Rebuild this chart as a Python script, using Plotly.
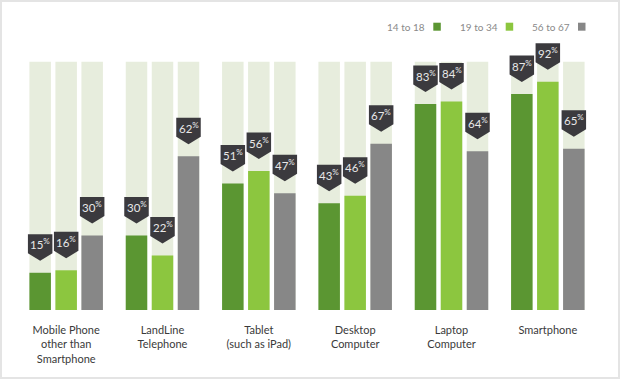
import plotly.graph_objects as go

categories = ["Mobile Phone<br>other than<br>Smartphone", "LandLine<br>Telephone",
              "Tablet<br>(such as iPad)", "Desktop<br>Computer", "Laptop<br>Computer", "Smartphone"]
series_names = ["14 to 18", "19 to 34", "56 to 67"]
v_14_18 = [15, 30, 51, 43, 83, 87]
v_19_34 = [16, 22, 56, 46, 84, 92]
v_56_67 = [30, 62, 47, 67, 64, 65]
series_values = [v_14_18, v_19_34, v_56_67]
colors = ["#5b9632", "#8cc63f", "#878787"]
bg_color = "#e7eddd"
callout_color = "#3b3a3e"

W, H = 620, 379
L, R, T, B = 18, 24, 37, 69
PW, PH = W - L - R, H - T - B
YMAX = 110 * PH / 273.0
px_per_y = PH / YMAX
px_per_x = PW / 6.0

bar_w = 21.5 / px_per_x
slot = 26 / px_per_x
offsets = [-slot, 0, slot]

x_idx = list(range(len(categories)))
fig = go.Figure()

# background bars
for k in range(3):
    fig.add_trace(go.Bar(x=[i + offsets[k] for i in x_idx], y=[100] * len(x_idx), width=bar_w,
                         marker=dict(color=bg_color, line=dict(width=0)), showlegend=False,
                         hoverinfo="skip"))
# data bars
for k in range(3):
    fig.add_trace(go.Bar(x=[i + offsets[k] for i in x_idx], y=series_values[k], width=bar_w,
                         marker=dict(color=colors[k], line=dict(width=0)), name=series_names[k],
                         showlegend=False))

shapes = []
annotations = []
cw = 24.5 / px_per_x
gap = 12 / px_per_y
tip = 7.5 / px_per_y
rect_h = 19 / px_per_y
for k in range(3):
    for i, v in enumerate(series_values[k]):
        xc = i + offsets[k]
        ytip = v + gap
        yb = ytip + tip
        yt = yb + rect_h
        x0, x1 = xc - cw / 2, xc + cw / 2
        path = f"M {x0},{yb} L {x0},{yt} L {x1},{yt} L {x1},{yb} L {xc},{ytip} Z"
        shapes.append(dict(type="path", path=path, xref="x", yref="y",
                           fillcolor=callout_color, line=dict(width=0), layer="above"))
        annotations.append(dict(x=xc, y=(yb + yt) / 2, xref="x", yref="y", showarrow=False,
                                text=f"{v}<sup>%</sup>",
                                font=dict(family="Lato", size=11.5, color="#e8e8e8"),
                                xanchor="center", yanchor="middle"))

def px2x(px):
    return (px - L) / PW

def py2y(py):
    return (H - B - py) / PH

# legend (text then square)
leg_sq_x = [433.3, 505.7, 578]
for k in range(3):
    annotations.append(dict(x=px2x(leg_sq_x[k] - 6), y=py2y(26.7), xref="paper", yref="paper",
                            text=series_names[k], showarrow=False, xanchor="right", yanchor="middle",
                            font=dict(family="Lato", size=10, color="#8a8a8a")))
    shapes.append(dict(type="rect", xref="paper", yref="paper",
                       x0=px2x(leg_sq_x[k]), x1=px2x(leg_sq_x[k] + 7.5),
                       y0=py2y(30.7), y1=py2y(22.7), fillcolor=colors[k], line=dict(width=0)))

# outer frame
shapes.append(dict(type="rect", xref="paper", yref="paper", x0=px2x(1), x1=px2x(W - 1),
                   y0=py2y(H - 1), y1=py2y(1), line=dict(color="#e4e4e4", width=2),
                   fillcolor="rgba(0,0,0,0)", layer="below"))

fig.update_layout(
    width=W, height=H, barmode="overlay",
    margin=dict(l=L, r=R, t=T, b=B, pad=0),
    paper_bgcolor="white", plot_bgcolor="white",
    xaxis=dict(range=[-0.5, 5.5], tickmode="array", tickvals=x_idx, ticktext=categories,
               showgrid=False, zeroline=False, showline=False, ticks="",
               tickfont=dict(family="Lato", size=11, color="#3a3a3a"), ticklabelstandoff=12),
    yaxis=dict(range=[0, YMAX], visible=False, showgrid=False, zeroline=False),
    shapes=shapes, annotations=annotations, showlegend=False,
)

fig.write_html("out.html", config={"displayModeBar": False},
               post_script="document.body.style.margin='0';document.body.style.overflow='hidden';")
